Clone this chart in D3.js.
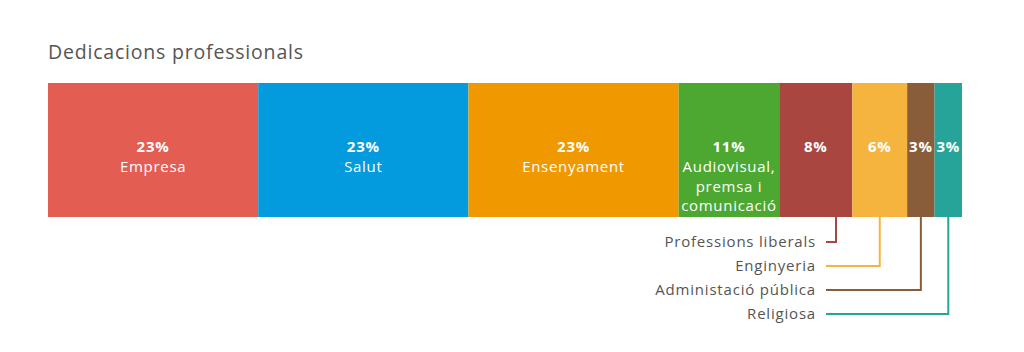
<!DOCTYPE html>
<html>
<head>
<meta charset="utf-8">
<script src="https://cdn.jsdelivr.net/npm/d3@7"></script>
<style>
  body { margin: 0; background: #fff; }
  svg { display: block; font-family: "Open Sans", sans-serif; }
</style>
</head>
<body>
<div id="chart"></div>
<script>
const categories = ["Empresa", "Salut", "Ensenyament", "Audiovisual, premsa i comunicació",
  "Professions liberals", "Enginyeria", "Administació pública", "Religiosa"];
const values = [23, 23, 23, 11, 8, 6, 3, 3];
const colors = ["#e35d52", "#039bdd", "#f09800", "#4da831", "#a9463f", "#f5b43e", "#8a5d3a", "#27a49a"];
// name drawn inside the bar, or outside with a leader line
const inside = [true, true, true, true, false, false, false, false];

const width = 1024, height = 352;
const barTop = 83, barH = 134;

const svg = d3.select("#chart").append("svg")
  .attr("width", width)
  .attr("height", height);

svg.append("text")
  .attr("x", 48)
  .attr("y", 59)
  .attr("fill", "#555")
  .style("font-size", "19.5px")
  .style("letter-spacing", "0.8px")
  .text("Dedicacions professionals");

let cum = [];
values.reduce((a, v, i) => { cum[i] = a; return a + v; }, 0);

const x = d3.scaleLinear()
  .domain([0, d3.sum(values)])
  .range([48, 962]);

const mid = i => (x(cum[i]) + x(cum[i] + values[i])) / 2;

const segs = svg.selectAll("g.seg")
  .data(values)
  .join("g")
  .attr("class", "seg");

segs.append("rect")
  .attr("x", (d, i) => x(cum[i]))
  .attr("y", barTop)
  .attr("width", (d, i) => x(cum[i] + d) - x(cum[i]))
  .attr("height", barH)
  .attr("fill", (d, i) => colors[i]);

segs.append("text")
  .attr("x", (d, i) => mid(i))
  .attr("y", 152)
  .attr("text-anchor", "middle")
  .attr("fill", "#fff")
  .style("font-weight", "bold")
  .style("font-size", "15px")
  .style("letter-spacing", "0.8px")
  .text(d => d + "%");

// inner names, wrapped when too long
const wrap = { "Audiovisual, premsa i comunicació": ["Audiovisual,", "premsa i", "comunicació"] };
categories.forEach((c, i) => {
  if (!inside[i]) return;
  const lines = wrap[c] || [c];
  const t = svg.append("text")
    .attr("text-anchor", "middle")
    .attr("fill", "#fff")
    .style("font-size", "15px")
    .style("letter-spacing", "0.7px");
  lines.forEach((l, j) => {
    t.append("tspan")
      .attr("x", mid(i))
      .attr("y", 172 + j * 19.5)
      .text(l);
  });
});

// outside labels with leader lines
const labelRight = 816, lineStart = 826;
let k = 0;
categories.forEach((c, i) => {
  if (inside[i]) return;
  const ly = 242 + k * 24;
  const cx = Math.max(mid(i), labelRight + 20);
  svg.append("path")
    .attr("d", `M${cx},${barTop + barH}V${ly}H${lineStart}`)
    .attr("fill", "none")
    .attr("stroke", colors[i])
    .attr("stroke-width", 2);
  svg.append("text")
    .attr("x", labelRight)
    .attr("y", ly + 5)
    .attr("text-anchor", "end")
    .attr("fill", "#555")
    .style("font-size", "15px")
    .style("letter-spacing", "0.8px")
    .text(c);
  k++;
});
</script>
</body>
</html>
